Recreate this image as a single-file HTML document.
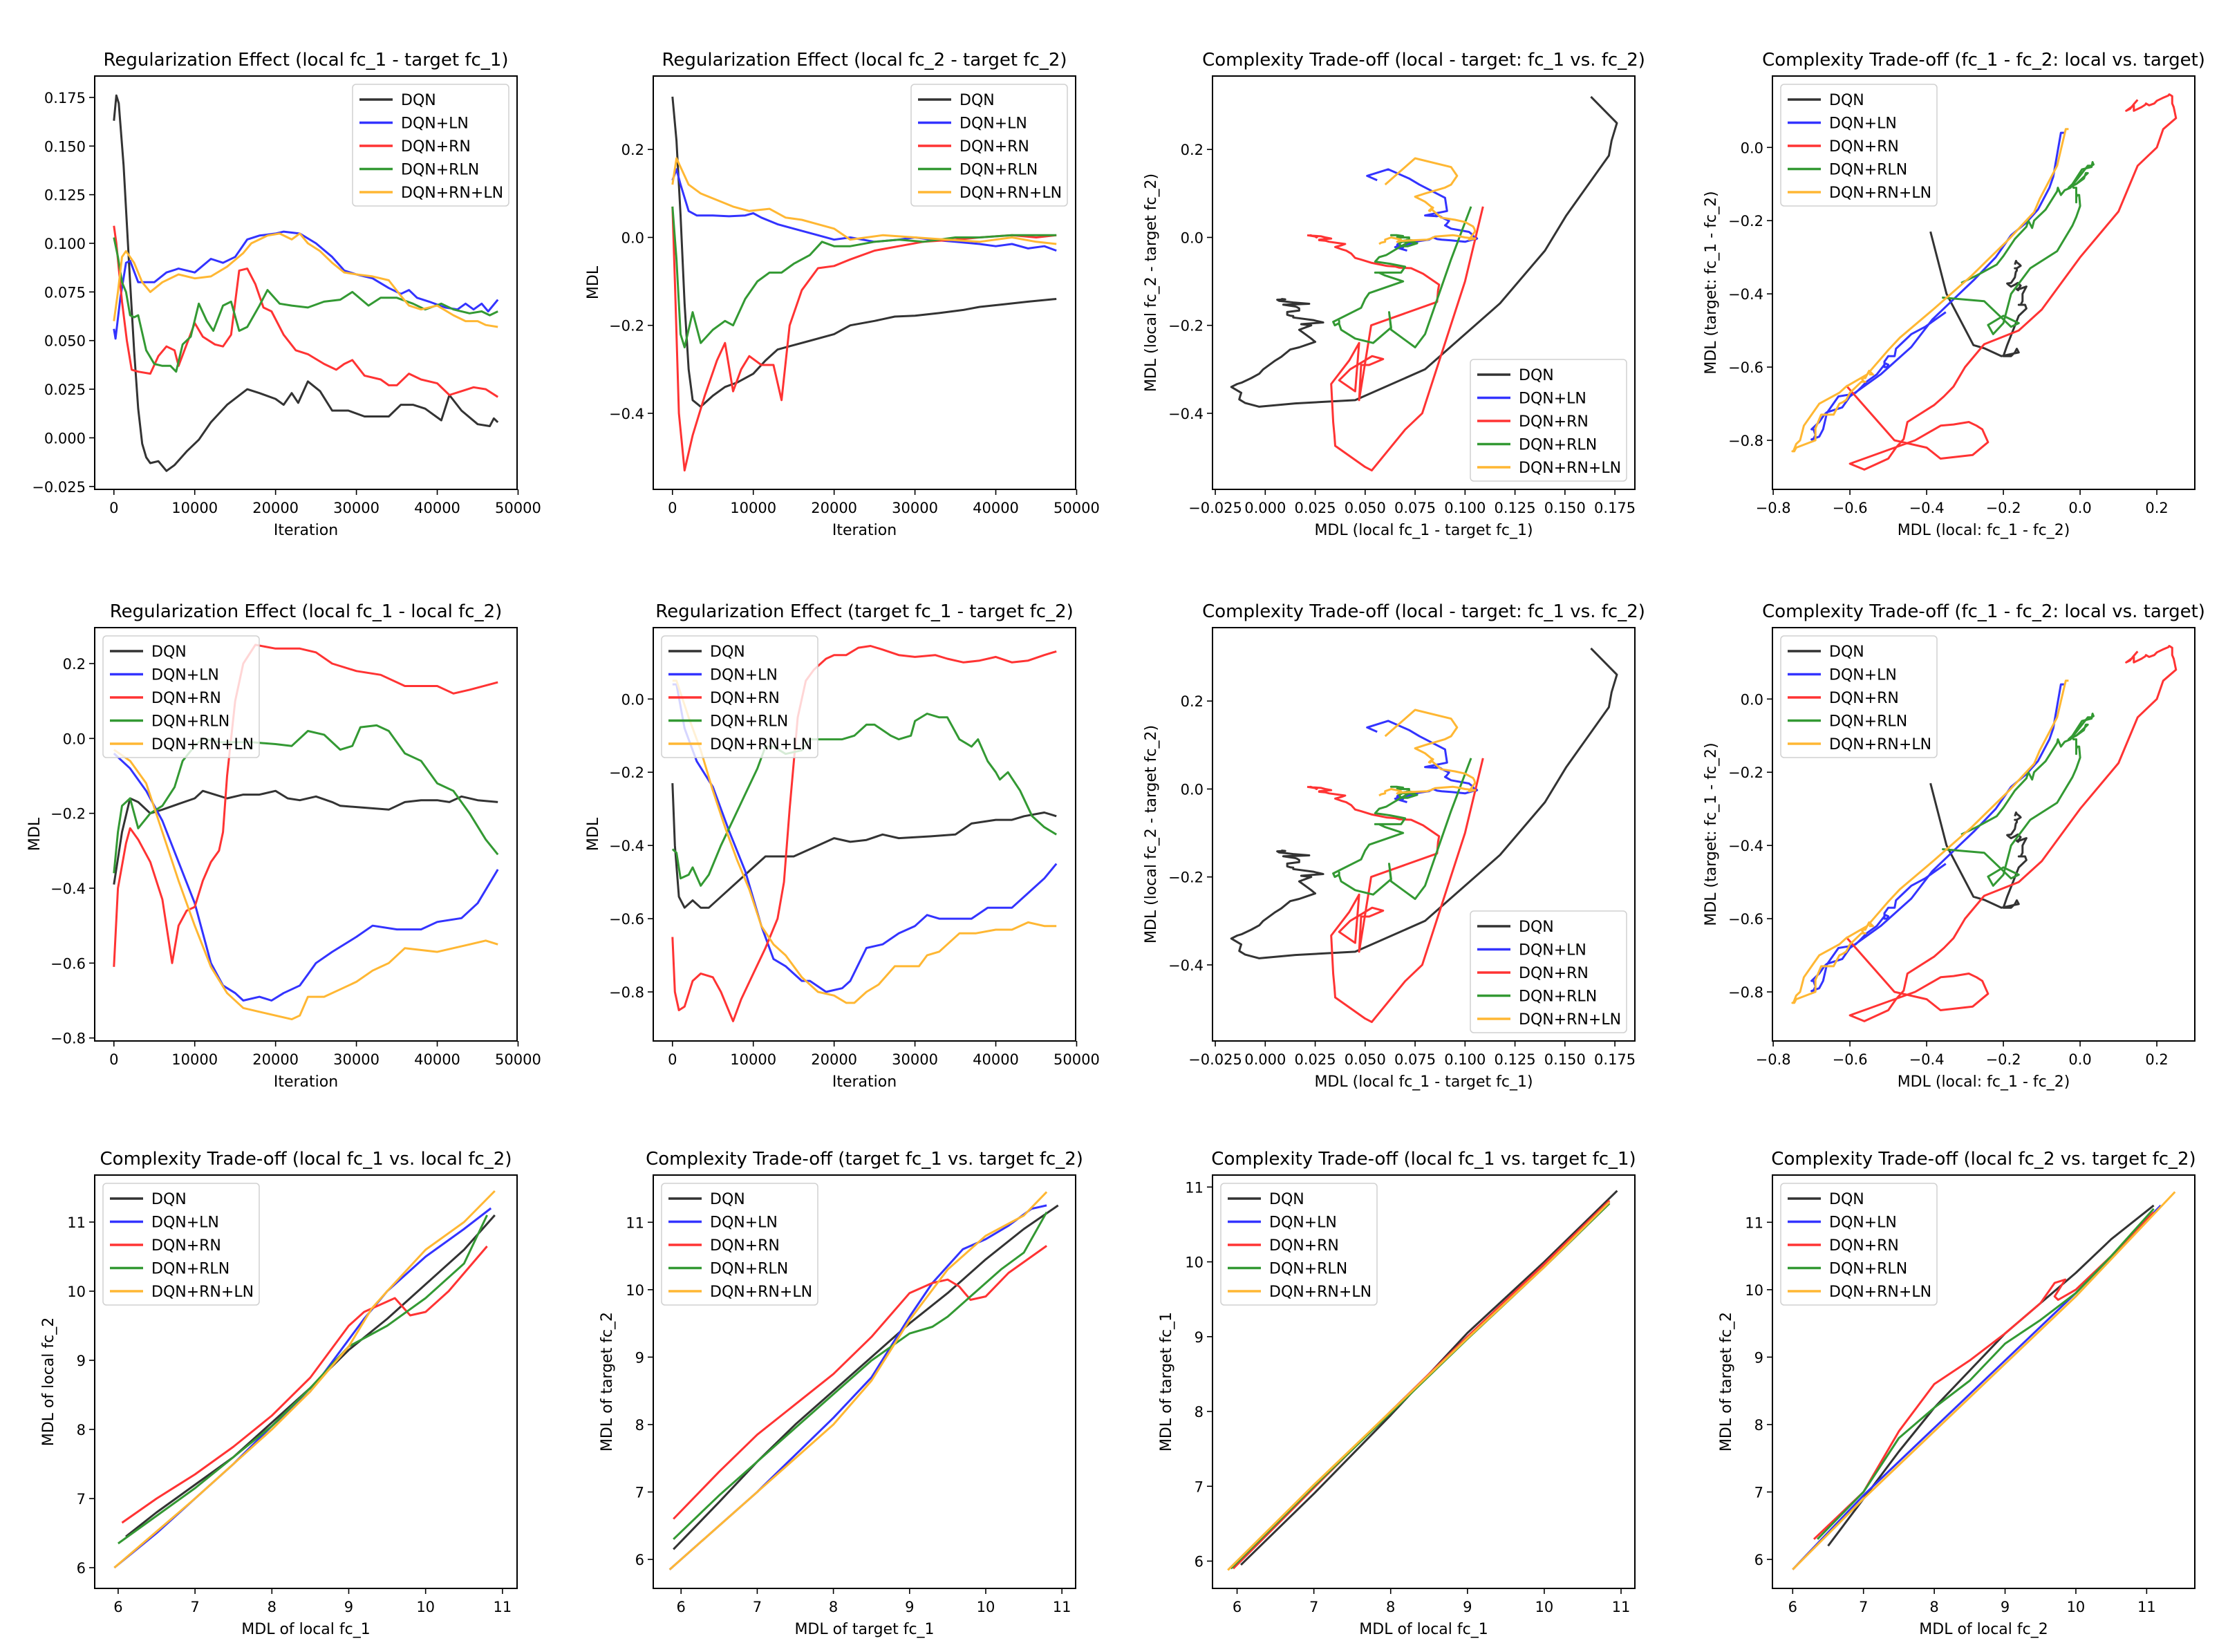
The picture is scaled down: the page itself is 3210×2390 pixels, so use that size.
<!DOCTYPE html>
<html><head><meta charset="utf-8">
<style>
html,body{margin:0;padding:0;background:#fff;}
svg{display:block;}
text{font-family:"DejaVu Sans","Liberation Sans",sans-serif;fill:#000;}
</style></head>
<body>
<svg id="fig" xmlns="http://www.w3.org/2000/svg" width="3210" height="2390" viewBox="0 0 3210 2390"></svg>
<script>
// ---------- data (iteration, value) ----------
const p1DQN=[[0,0.163],[300,0.176],[600,0.172],[1200,0.14],[2000,0.08],[2500,0.045],[3000,0.015],[3500,-0.003],[4000,-0.01],[4500,-0.013],[5500,-0.012],[6500,-0.017],[7500,-0.014],[9000,-0.007],[10500,-0.001],[12000,0.008],[14000,0.017],[16500,0.025],[18000,0.023],[20000,0.02],[21000,0.017],[22000,0.023],[22800,0.018],[24000,0.029],[25500,0.024],[27000,0.014],[29000,0.014],[31000,0.011],[33000,0.011],[34000,0.011],[35500,0.017],[37000,0.017],[38500,0.015],[40500,0.009],[41500,0.022],[43000,0.014],[45000,0.007],[46500,0.006],[47000,0.01],[47500,0.008]];
const p1LN=[[0,0.056],[200,0.051],[800,0.072],[1500,0.09],[2000,0.091],[3000,0.08],[5000,0.08],[6500,0.085],[8000,0.087],[10000,0.085],[12000,0.092],[13500,0.09],[15000,0.093],[16500,0.102],[18000,0.104],[20000,0.105],[21000,0.106],[23000,0.105],[25000,0.1],[27000,0.093],[28500,0.086],[30000,0.084],[32000,0.082],[34000,0.077],[35500,0.074],[36500,0.076],[37500,0.072],[39000,0.07],[41000,0.067],[42500,0.066],[43500,0.069],[44500,0.066],[45500,0.069],[46300,0.065],[47500,0.071]];
const p1RN=[[0,0.109],[300,0.1],[1000,0.07],[1600,0.05],[2200,0.035],[3000,0.034],[4500,0.033],[5500,0.042],[6500,0.047],[7500,0.045],[8000,0.037],[9000,0.048],[10000,0.059],[11000,0.052],[12500,0.048],[13500,0.047],[14500,0.053],[15500,0.086],[16500,0.087],[17500,0.079],[18500,0.067],[19500,0.065],[21000,0.053],[22500,0.045],[24000,0.043],[26000,0.038],[27500,0.035],[28500,0.038],[29500,0.04],[31000,0.032],[33000,0.03],[34000,0.027],[35000,0.027],[36500,0.033],[38000,0.03],[40000,0.028],[41500,0.022],[43000,0.024],[44500,0.026],[46000,0.025],[47500,0.021]];
const p1RLN=[[0,0.103],[500,0.093],[1000,0.08],[1500,0.075],[2000,0.063],[2500,0.062],[3000,0.063],[4000,0.045],[5000,0.038],[6000,0.037],[7000,0.037],[7700,0.034],[8500,0.048],[9500,0.052],[10500,0.069],[11500,0.06],[12300,0.055],[13500,0.068],[14500,0.07],[15500,0.055],[16500,0.057],[18000,0.068],[19000,0.076],[20500,0.069],[22000,0.068],[24000,0.067],[26000,0.07],[28000,0.071],[29500,0.075],[31500,0.068],[33000,0.072],[35000,0.072],[37000,0.069],[38500,0.066],[40500,0.069],[42000,0.066],[44000,0.064],[45500,0.065],[46500,0.063],[47500,0.065]];
const p1RNLN=[[0,0.06],[500,0.075],[1000,0.093],[1500,0.096],[2500,0.09],[3500,0.08],[4500,0.075],[6000,0.08],[8000,0.084],[10000,0.082],[12000,0.083],[14000,0.088],[16000,0.095],[17000,0.1],[19000,0.104],[20500,0.105],[22000,0.102],[23000,0.105],[24000,0.1],[25500,0.096],[27000,0.09],[28500,0.085],[30000,0.084],[32000,0.083],[34000,0.081],[35500,0.073],[36500,0.068],[38000,0.066],[40000,0.068],[42000,0.063],[43500,0.06],[45000,0.06],[46000,0.058],[47500,0.057]];

const p2DQN=[[0,0.32],[500,0.22],[1000,0.05],[1500,-0.15],[2000,-0.3],[2500,-0.37],[3500,-0.385],[5000,-0.36],[6500,-0.34],[8000,-0.33],[10000,-0.31],[11500,-0.28],[13000,-0.255],[15000,-0.245],[17000,-0.235],[20000,-0.22],[22000,-0.2],[25000,-0.19],[27500,-0.18],[30000,-0.178],[33000,-0.172],[36000,-0.165],[38000,-0.158],[41000,-0.152],[44000,-0.146],[47500,-0.14]];
const p2LN=[[0,0.13],[500,0.155],[1000,0.12],[2000,0.06],[3000,0.05],[5000,0.05],[7000,0.048],[9000,0.05],[10000,0.055],[11000,0.045],[13000,0.03],[15000,0.02],[18000,0.005],[20000,-0.005],[22000,0.0],[25000,-0.01],[28000,-0.005],[30000,0.0],[32000,-0.005],[35000,-0.01],[38000,-0.015],[40000,-0.02],[42000,-0.015],[44000,-0.025],[46000,-0.02],[47500,-0.03]];
const p2RN=[[0,0.07],[300,-0.1],[800,-0.4],[1500,-0.53],[2500,-0.45],[4000,-0.36],[5500,-0.28],[6500,-0.24],[7500,-0.35],[8500,-0.3],[9500,-0.27],[11000,-0.29],[12500,-0.29],[13500,-0.37],[14500,-0.2],[16000,-0.12],[18000,-0.07],[20000,-0.065],[22000,-0.05],[25000,-0.03],[28000,-0.02],[31000,-0.01],[35000,-0.005],[38000,0.0],[42000,0.005],[45000,0.0],[47500,0.005]];
const p2RLN=[[0,0.07],[500,-0.05],[1000,-0.22],[1500,-0.25],[2500,-0.17],[3500,-0.24],[5000,-0.21],[6500,-0.19],[7500,-0.2],[9000,-0.14],[10500,-0.1],[12000,-0.08],[13500,-0.08],[15000,-0.06],[17000,-0.04],[18500,-0.01],[20000,-0.02],[22000,-0.02],[25000,-0.01],[28000,-0.005],[31000,-0.01],[35000,0.0],[38000,0.0],[42000,0.005],[45000,0.005],[47500,0.005]];
const p2RNLN=[[0,0.12],[500,0.18],[1000,0.16],[2000,0.12],[3500,0.1],[5500,0.085],[7500,0.07],[9500,0.06],[12000,0.065],[14000,0.045],[16000,0.04],[18000,0.03],[20000,0.02],[22000,-0.005],[24000,0.0],[26000,0.005],[30000,0.0],[34000,-0.005],[38000,-0.01],[42000,0.0],[45000,-0.01],[47500,-0.015]];

const p5DQN=[[0,-0.39],[1000,-0.25],[2000,-0.16],[3000,-0.17],[4500,-0.2],[6000,-0.19],[8000,-0.175],[10000,-0.16],[11000,-0.14],[12500,-0.15],[14000,-0.16],[16000,-0.15],[18000,-0.15],[20000,-0.14],[21500,-0.16],[23000,-0.165],[25000,-0.155],[27000,-0.17],[28000,-0.18],[31000,-0.185],[34000,-0.19],[36000,-0.17],[38000,-0.165],[40000,-0.165],[41500,-0.17],[43000,-0.155],[45000,-0.165],[47500,-0.17]];
const p5LN=[[0,-0.04],[2000,-0.08],[4000,-0.14],[6000,-0.22],[8000,-0.33],[10000,-0.44],[12000,-0.6],[13500,-0.66],[15000,-0.68],[16000,-0.7],[18000,-0.69],[19500,-0.7],[21000,-0.68],[23000,-0.66],[24000,-0.63],[25000,-0.6],[27000,-0.57],[30000,-0.53],[32000,-0.5],[35000,-0.51],[38000,-0.51],[40000,-0.49],[43000,-0.48],[45000,-0.44],[47500,-0.35]];
const p5RN=[[0,-0.61],[500,-0.4],[1500,-0.28],[2000,-0.24],[3000,-0.27],[4500,-0.33],[6000,-0.43],[7200,-0.6],[8000,-0.5],[9000,-0.46],[10000,-0.45],[11000,-0.38],[12000,-0.33],[13000,-0.3],[13500,-0.25],[14000,-0.1],[15000,0.1],[16000,0.2],[17500,0.25],[20000,0.24],[23000,0.24],[25000,0.23],[27000,0.2],[30000,0.18],[33000,0.17],[36000,0.14],[40000,0.14],[42000,0.12],[44000,0.13],[47500,0.15]];
const p5RLN=[[0,-0.36],[500,-0.25],[1000,-0.18],[2000,-0.16],[3000,-0.24],[4500,-0.2],[6000,-0.18],[7500,-0.13],[8500,-0.06],[10000,-0.02],[11000,0.0],[13000,-0.01],[15000,-0.01],[17000,-0.01],[20000,-0.015],[22000,-0.02],[24000,0.02],[26000,0.01],[28000,-0.03],[29500,-0.02],[30500,0.03],[32500,0.035],[34000,0.02],[36000,-0.04],[38000,-0.06],[40000,-0.12],[42000,-0.14],[44000,-0.2],[46000,-0.27],[47500,-0.31]];
const p5RNLN=[[0,-0.03],[2000,-0.06],[4000,-0.12],[6000,-0.25],[8000,-0.38],[10000,-0.5],[12000,-0.61],[14000,-0.68],[16000,-0.72],[18000,-0.73],[20000,-0.74],[22000,-0.75],[23000,-0.74],[24000,-0.69],[26000,-0.69],[28000,-0.67],[30000,-0.65],[32000,-0.62],[34000,-0.6],[36000,-0.56],[40000,-0.57],[44000,-0.55],[46000,-0.54],[47500,-0.55]];

const p6DQN=[[0,-0.23],[300,-0.4],[800,-0.54],[1500,-0.57],[2500,-0.55],[3500,-0.57],[4500,-0.57],[6000,-0.54],[8000,-0.5],[10000,-0.46],[11500,-0.43],[13000,-0.43],[15000,-0.43],[17000,-0.41],[20000,-0.38],[22000,-0.39],[24000,-0.385],[26000,-0.37],[28000,-0.38],[32000,-0.375],[35000,-0.37],[37000,-0.34],[40000,-0.33],[42000,-0.33],[43500,-0.32],[46000,-0.31],[47500,-0.32]];
const p6LN=[[0,0.04],[500,0.04],[1500,-0.08],[3000,-0.17],[5000,-0.24],[7000,-0.36],[9000,-0.47],[11000,-0.62],[12500,-0.71],[14000,-0.73],[16000,-0.77],[17000,-0.77],[19000,-0.8],[21000,-0.79],[22000,-0.77],[24000,-0.68],[26000,-0.67],[28000,-0.64],[30000,-0.62],[31500,-0.59],[33000,-0.6],[35000,-0.6],[37000,-0.6],[39000,-0.57],[42000,-0.57],[44000,-0.53],[46000,-0.49],[47500,-0.45]];
const p6RN=[[0,-0.65],[300,-0.8],[800,-0.85],[1500,-0.84],[2500,-0.77],[3500,-0.75],[5000,-0.76],[6000,-0.8],[7500,-0.88],[8500,-0.82],[10000,-0.75],[11500,-0.68],[13000,-0.6],[13800,-0.5],[14500,-0.3],[15500,-0.05],[16500,0.05],[17500,0.08],[19000,0.11],[20000,0.12],[21500,0.12],[23000,0.14],[24500,0.145],[26000,0.135],[28000,0.12],[30000,0.115],[32500,0.12],[34000,0.11],[36000,0.1],[38000,0.105],[40000,0.115],[42000,0.1],[44000,0.105],[46000,0.12],[47500,0.13]];
const p6RLN=[[0,-0.41],[500,-0.42],[1000,-0.49],[2000,-0.48],[2500,-0.46],[3500,-0.51],[4500,-0.48],[6000,-0.4],[7500,-0.33],[9000,-0.26],[10500,-0.19],[11500,-0.13],[12500,-0.13],[14000,-0.15],[16000,-0.14],[17000,-0.11],[19000,-0.11],[21000,-0.11],[22500,-0.1],[24000,-0.07],[25000,-0.07],[27000,-0.1],[28000,-0.11],[29500,-0.1],[30000,-0.06],[31500,-0.04],[33000,-0.05],[34000,-0.05],[35500,-0.11],[37000,-0.13],[37800,-0.11],[39000,-0.17],[40000,-0.2],[40500,-0.22],[41500,-0.2],[43000,-0.25],[44500,-0.32],[46000,-0.35],[47500,-0.37]];
const p6RNLN=[[0,0.05],[500,0.05],[2000,-0.05],[3500,-0.14],[5000,-0.25],[6500,-0.35],[8000,-0.44],[9500,-0.52],[11000,-0.62],[12500,-0.67],[14000,-0.7],[16000,-0.76],[18000,-0.8],[20000,-0.81],[21500,-0.83],[22500,-0.83],[24000,-0.8],[25500,-0.78],[27500,-0.73],[29000,-0.73],[30500,-0.73],[31500,-0.7],[33000,-0.69],[35500,-0.64],[37500,-0.64],[40000,-0.63],[42000,-0.63],[44000,-0.61],[46000,-0.62],[47500,-0.62]];

const p9DQN=[[6.1,6.45],[6.5,6.8],[7,7.2],[7.5,7.6],[8,8.1],[8.5,8.6],[9,9.15],[9.5,9.6],[10,10.1],[10.5,10.6],[10.9,11.1]];
const p9LN=[[5.95,6.0],[6.5,6.5],[7,7.0],[7.5,7.5],[8,8.05],[8.5,8.55],[9,9.3],[9.2,9.6],[9.5,10.0],[10,10.5],[10.5,10.9],[10.85,11.2]];
const p9RN=[[6.05,6.65],[6.5,7.0],[7,7.35],[7.5,7.75],[8,8.2],[8.5,8.75],[9,9.5],[9.2,9.7],[9.6,9.9],[9.8,9.65],[10,9.7],[10.3,10.0],[10.8,10.65]];
const p9RLN=[[6.0,6.35],[6.5,6.75],[7,7.15],[7.5,7.6],[8,8.05],[8.5,8.6],[9,9.2],[9.5,9.5],[10,9.9],[10.5,10.4],[10.8,11.1]];
const p9RNLN=[[5.95,6.0],[7,7.0],[8,8.0],[8.5,8.55],[9,9.2],[9.3,9.75],[9.5,10.0],[10,10.6],[10.5,11.0],[10.9,11.45]];

const p10DQN=[[5.9,6.15],[6.5,6.85],[7,7.45],[7.5,8.0],[8,8.5],[8.5,9.0],[9,9.5],[9.5,9.95],[10,10.45],[10.5,10.9],[10.95,11.25]];
const p10LN=[[5.85,5.85],[6.5,6.5],[7,7.0],[7.5,7.55],[8,8.1],[8.5,8.7],[9,9.6],[9.3,10.1],[9.7,10.6],[10,10.75],[10.3,10.95],[10.6,11.2],[10.8,11.25]];
const p10RN=[[5.9,6.6],[6.5,7.3],[7,7.85],[7.5,8.3],[8,8.75],[8.5,9.3],[9,9.95],[9.3,10.1],[9.5,10.15],[9.65,10.05],[9.8,9.85],[10,9.9],[10.3,10.25],[10.8,10.65]];
const p10RLN=[[5.9,6.3],[6.5,6.95],[7,7.45],[7.5,7.95],[8,8.45],[8.5,8.95],[9,9.35],[9.3,9.45],[9.5,9.6],[9.8,9.9],[10.2,10.3],[10.5,10.55],[10.8,11.15]];
const p10RNLN=[[5.85,5.85],[7,7.0],[8,8.0],[8.5,8.65],[9,9.55],[9.5,10.3],[10,10.8],[10.5,11.1],[10.8,11.45]];

const p11DQN=[[6.05,5.95],[7,6.9],[8,7.95],[9,9.05],[10,10.0],[10.95,10.95]];
const p11LN=[[5.9,5.9],[7,7.0],[8,8.0],[9,9.0],[10,9.95],[10.85,10.8]];
const p11RN=[[5.95,5.9],[7,6.98],[8,8.0],[9,9.0],[10,9.97],[10.85,10.82]];
const p11RLN=[[5.92,5.9],[7,7.0],[8,7.98],[9,8.97],[10,9.93],[10.85,10.78]];
const p11RNLN=[[5.88,5.88],[7,7.02],[8,8.0],[9,8.98],[10,9.93],[10.85,10.8]];

const p12DQN=[[6.5,6.2],[7,6.9],[7.5,7.6],[8,8.25],[8.5,8.8],[9,9.35],[9.5,9.8],[10,10.25],[10.5,10.75],[11.1,11.25]];
const p12LN=[[6.0,5.85],[7,6.95],[8,7.95],[9,8.95],[10,9.95],[11.2,11.25]];
const p12RN=[[6.3,6.3],[7,7.0],[7.5,7.9],[8,8.6],[8.5,8.95],[9,9.35],[9.5,9.8],[9.7,10.1],[9.85,10.15],[9.7,9.9],[9.75,9.85],[10,10.0],[10.5,10.5],[11.1,11.15]];
const p12RLN=[[6.35,6.3],[7,7.0],[7.5,7.8],[8,8.25],[8.5,8.65],[9,9.2],[9.5,9.55],[10,9.95],[10.5,10.5],[11.1,11.2]];
const p12RNLN=[[6.0,5.85],[7,6.9],[8,7.9],[9,8.9],[10,9.9],[11.4,11.45]];

const seriesNames=["DQN","DQN+LN","DQN+RN","DQN+RLN","DQN+RN+LN"];
const itTicks=[0,10000,20000,30000,40000,50000];
const p1YTicks=[-0.025,0,0.025,0.05,0.075,0.1,0.125,0.15,0.175];
const p2YTicks=[-0.4,-0.2,0.0,0.2];
const p3XTicks=[-0.025,0,0.025,0.05,0.075,0.1,0.125,0.15,0.175];
const p4XTicks=[-0.8,-0.6,-0.4,-0.2,0.0,0.2];
const p5YTicks=[-0.8,-0.6,-0.4,-0.2,0.0,0.2];
const p6YTicks=[-0.8,-0.6,-0.4,-0.2,0.0];
const mdlTicks=[6,7,8,9,10,11];

// ---------- helpers ----------
const NS="http://www.w3.org/2000/svg";
const svg=document.getElementById('fig');
const COLORS=["#333333","#3333ff","#ff3333","#339933","#ffb733"];
function mk(tag,attrs,parent){const e=document.createElementNS(NS,tag);for(const k in attrs)e.setAttribute(k,attrs[k]);(parent||svg).appendChild(e);return e;}
function fmt(v,d){const s=v.toFixed(d);return (v<0?"\u2212"+s.slice(1):s);}
function interp(s,t){if(t<=s[0][0])return s[0][1];for(let i=1;i<s.length;i++){if(t<=s[i][0]){const a=s[i-1],b=s[i];return a[1]+(b[1]-a[1])*(t-a[0])/(b[0]-a[0]);}}return s[s.length-1][1];}
function pair(sx,sy){const ts=[...new Set(sx.map(p=>p[0]).concat(sy.map(p=>p[0])))].sort((a,b)=>a-b);return ts.map(t=>[interp(sx,t),interp(sy,t)]);}

const LEFTS=[137,945,1754,2564],TOPS=[110,908,1700],W=611,H=598;

function plot(o){
  const L=LEFTS[o.c],T=TOPS[o.r];
  const g=mk('g',{});
  
  
  const sx=v=>L+(v-o.xl[0])/(o.xl[1]-o.xl[0])*W;
  const sy=v=>T+H-(v-o.yl[0])/(o.yl[1]-o.yl[0])*H;
  const t=mk('text',{x:L+W/2,y:T-15,'text-anchor':'middle','font-size':26},g);t.textContent=o.title;
  
  const cp='cp'+o.r+o.c;
  const d=mk('clipPath',{id:cp},g);mk('rect',{x:L,y:T,width:W,height:H},d);
  const lg=mk('g',{'clip-path':'url(#'+cp+')'},g);
  o.series.forEach((s,i)=>{
    const p=mk('polyline',{points:s.map(q=>sx(q[0]).toFixed(1)+','+sy(q[1]).toFixed(1)).join(' '),fill:'none',stroke:COLORS[i],'stroke-width':3,'stroke-linejoin':'round'},lg);
    
    
  });
  const fr=mk('rect',{x:L,y:T,width:W,height:H,fill:'none',stroke:'#000','stroke-width':2},g);
  
  o.xt.forEach(v=>{const x=sx(v);mk('line',{x1:x,x2:x,y1:T+H,y2:T+H+8,stroke:'#000','stroke-width':1.6},g);
    const tt=mk('text',{x:x,y:T+H+34,'text-anchor':'middle','font-size':21},g);tt.textContent=o.xf(v);
    });
  o.yt.forEach(v=>{const y=sy(v);mk('line',{x1:L-8,x2:L,y1:y,y2:y,stroke:'#000','stroke-width':1.6},g);
    const tt=mk('text',{x:L-13,y:y+8,'text-anchor':'end','font-size':21},g);tt.textContent=o.yf(v);
    });
  const xl=mk('text',{x:L+W/2,y:T+H+66,'text-anchor':'middle','font-size':22},g);xl.textContent=o.xlabel;
  
  if(o.ylabel){const yx=L-o.yoff,yy=T+H/2;const yl=mk('text',{x:yx,y:yy,'text-anchor':'middle','font-size':22,transform:`rotate(-90 ${yx} ${yy})`},g);yl.textContent=o.ylabel;
    }
  const lw=226,lh=176;let bx,by;
  if(o.leg==='ur'){bx=L+W-12-lw;by=T+12;}else if(o.leg==='lr'){bx=L+W-12-lw;by=T+H-12-lh;}else{bx=L+12;by=T+12;}
  const leg=mk('g',{},g);
  mk('rect',{x:bx,y:by,width:lw,height:lh,rx:5,fill:'#fff','fill-opacity':0.8,stroke:'#d0d0d0','stroke-width':1.5},leg);
  seriesNames.forEach((n,i)=>{const yy=by+22+i*33.5;
    mk('line',{x1:bx+10,x2:bx+58,y1:yy,y2:yy,stroke:COLORS[i],'stroke-width':3.5},leg);
    const e=mk('text',{x:bx+70,y:yy+8,'font-size':22},leg);e.textContent=n;
    });
}
const itf=v=>String(v), f3=v=>fmt(v,3), f1=v=>fmt(v,1), f0=v=>String(v);
const itXL=[-2375,49875];
const p2YL=[-0.573,0.367], p3XL=[-0.0264,0.185];
const p6YL=[-0.934,0.195], p4XL=[-0.802,0.299];

plot({name:'plot-reg-local-fc1-target-fc1',r:0,c:0,title:'Regularization Effect (local fc_1 - target fc_1)',xl:itXL,yl:[-0.0265,0.186],xt:itTicks,yt:p1YTicks,xf:itf,yf:f3,xlabel:'Iteration',ylabel:'',leg:'ur',series:[p1DQN,p1LN,p1RN,p1RLN,p1RNLN]});
plot({name:'plot-reg-local-fc2-target-fc2',r:0,c:1,title:'Regularization Effect (local fc_2 - target fc_2)',xl:itXL,yl:p2YL,xt:itTicks,yt:p2YTicks,xf:itf,yf:f1,xlabel:'Iteration',ylabel:'MDL',yoff:80,leg:'ur',series:[p2DQN,p2LN,p2RN,p2RLN,p2RNLN]});
const p3S=[pair(p1DQN,p2DQN),pair(p1LN,p2LN),pair(p1RN,p2RN),pair(p1RLN,p2RLN),pair(p1RNLN,p2RNLN)];
const p4S=[pair(p5DQN,p6DQN),pair(p5LN,p6LN),pair(p5RN,p6RN),pair(p5RLN,p6RLN),pair(p5RNLN,p6RNLN)];
[0,1].forEach(r=>{
plot({name:'plot-tradeoff-local-target-'+r,r:r,c:2,title:'Complexity Trade-off (local - target: fc_1 vs. fc_2)',xl:p3XL,yl:p2YL,xt:p3XTicks,yt:p2YTicks,xf:f3,yf:f1,xlabel:'MDL (local fc_1 - target fc_1)',ylabel:'MDL (local fc_2 - target fc_2)',yoff:82,leg:'lr',series:p3S});
plot({name:'plot-tradeoff-fc1-fc2-'+r,r:r,c:3,title:'Complexity Trade-off (fc_1 - fc_2: local vs. target)',xl:p4XL,yl:p6YL,xt:p4XTicks,yt:p6YTicks,xf:f1,yf:f1,xlabel:'MDL (local: fc_1 - fc_2)',ylabel:'MDL (target: fc_1 - fc_2)',yoff:82,leg:'ul',series:p4S});
});
plot({name:'plot-reg-local-fc1-local-fc2',r:1,c:0,title:'Regularization Effect (local fc_1 - local fc_2)',xl:itXL,yl:[-0.808,0.296],xt:itTicks,yt:p5YTicks,xf:itf,yf:f1,xlabel:'Iteration',ylabel:'MDL',yoff:80,leg:'ul',series:[p5DQN,p5LN,p5RN,p5RLN,p5RNLN]});
plot({name:'plot-reg-target-fc1-target-fc2',r:1,c:1,title:'Regularization Effect (target fc_1 - target fc_2)',xl:itXL,yl:p6YL,xt:itTicks,yt:p6YTicks,xf:itf,yf:f1,xlabel:'Iteration',ylabel:'MDL',yoff:80,leg:'ul',series:[p6DQN,p6LN,p6RN,p6RLN,p6RNLN]});
plot({name:'plot-local-fc1-vs-local-fc2',r:2,c:0,title:'Complexity Trade-off (local fc_1 vs. local fc_2)',xl:[5.695,11.19],yl:[5.70,11.68],xt:mdlTicks,yt:mdlTicks,xf:f0,yf:f0,xlabel:'MDL of local fc_1',ylabel:'MDL of local fc_2',yoff:60,leg:'ul',series:[p9DQN,p9LN,p9RN,p9RLN,p9RNLN]});
plot({name:'plot-target-fc1-vs-target-fc2',r:2,c:1,title:'Complexity Trade-off (target fc_1 vs. target fc_2)',xl:[5.635,11.18],yl:[5.57,11.70],xt:mdlTicks,yt:mdlTicks,xf:f0,yf:f0,xlabel:'MDL of target fc_1',ylabel:'MDL of target fc_2',yoff:60,leg:'ul',series:[p10DQN,p10LN,p10RN,p10RLN,p10RNLN]});
plot({name:'plot-local-fc1-vs-target-fc1',r:2,c:2,title:'Complexity Trade-off (local fc_1 vs. target fc_1)',xl:[5.68,11.18],yl:[5.635,11.16],xt:mdlTicks,yt:mdlTicks,xf:f0,yf:f0,xlabel:'MDL of local fc_1',ylabel:'MDL of target fc_1',yoff:60,leg:'ul',series:[p11DQN,p11LN,p11RN,p11RLN,p11RNLN]});
plot({name:'plot-local-fc2-vs-target-fc2',r:2,c:3,title:'Complexity Trade-off (local fc_2 vs. target fc_2)',xl:[5.714,11.68],yl:[5.57,11.70],xt:mdlTicks,yt:mdlTicks,xf:f0,yf:f0,xlabel:'MDL of local fc_2',ylabel:'MDL of target fc_2',yoff:60,leg:'ul',series:[p12DQN,p12LN,p12RN,p12RLN,p12RNLN]});
</script>
</body></html>
